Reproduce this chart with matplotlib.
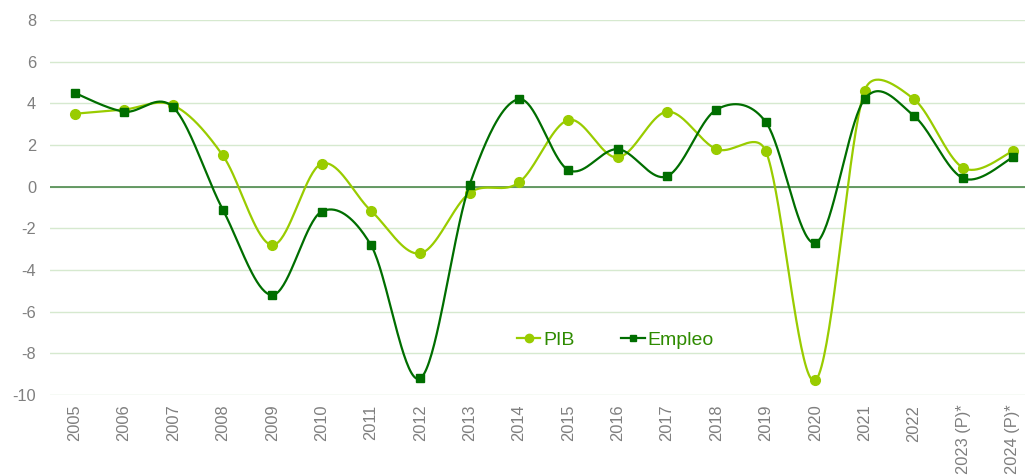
import numpy as np
import matplotlib.pyplot as plt
from matplotlib.lines import Line2D

plt.rcParams['font.family'] = ['Liberation Sans', 'DejaVu Sans']

years = ["2005", "2006", "2007", "2008", "2009", "2010", "2011", "2012", "2013", "2014",
         "2015", "2016", "2017", "2018", "2019", "2020", "2021", "2022", "2023 (P)*", "2024 (P)*"]
pib = [3.5, 3.7, 3.9, 1.5, -2.8, 1.1, -1.15, -3.2, -0.3, 0.2,
       3.2, 1.4, 3.6, 1.8, 1.7, -9.3, 4.6, 4.2, 0.9, 1.7]
empleo = [4.5, 3.6, 3.8, -1.1, -5.2, -1.2, -2.8, -9.2, 0.1, 4.2,
          0.8, 1.8, 0.5, 3.7, 3.1, -2.7, 4.2, 3.4, 0.4, 1.4]

pib_col = "#99CC00"
emp_col = "#006E00"


def smooth(x, y, sx=49.3, sy=20.85, n=40):
    # spreadsheet-like smoothed line: bezier through points, handles 1/6 of
    # neighbour chord, capped at half the segment (computed in pixel space)
    p = np.column_stack([np.asarray(x, float) * sx, np.asarray(y, float) * sy])
    m = len(p)
    out = []
    for i in range(m - 1):
        p1, p2 = p[i], p[i + 1]
        p0 = p[i - 1] if i > 0 else p1
        p3 = p[i + 2] if i + 2 < m else p2
        seg = np.hypot(*(p2 - p1))
        t1 = p2 - p0
        t2 = p3 - p1
        f1 = 1 / 6
        if np.hypot(*t1) / 6 > seg / 2:
            f1 = seg / (2 * np.hypot(*t1))
        f2 = 1 / 6
        if np.hypot(*t2) / 6 > seg / 2:
            f2 = seg / (2 * np.hypot(*t2))
        c1 = p1 + t1 * f1
        c2 = p2 - t2 * f2
        t = np.linspace(0, 1, n)[:, None]
        out.append((1 - t) ** 3 * p1 + 3 * (1 - t) ** 2 * t * c1 + 3 * (1 - t) * t ** 2 * c2 + t ** 3 * p2)
    out = np.vstack(out)
    return out[:, 0] / sx, out[:, 1] / sy


fig = plt.figure(figsize=(10.25, 4.75), dpi=100)
ax = fig.add_axes([50 / 1025, 80 / 475, 975 / 1025, 375 / 475])

x = np.arange(len(years))

ax.set_ylim(-10, 8)
ax.set_yticks(range(-10, 9, 2))
ax.set_yticklabels([str(v) for v in range(-10, 9, 2)])
ax.set_xlim(-0.5, 19.25)
ax.grid(axis="y", color="#D6E9CF", linewidth=1)
ax.axhline(0, color="#4E8A4E", linewidth=1.2, zorder=1)
ax.set_axisbelow(True)

cx, cy = smooth(x, pib)
ax.plot(cx, cy, color=pib_col, linewidth=1.6, zorder=2)
ax.plot(x, pib, "o", color=pib_col, markersize=7, zorder=3)

cx, cy = smooth(x, empleo)
ax.plot(cx, cy, color=emp_col, linewidth=1.6, zorder=4)
ax.plot(x, empleo, "s", color=emp_col, markersize=5.5, zorder=5)

ax.set_xticks(x)
ax.set_xticklabels(years, rotation=90)
ax.tick_params(axis="both", length=0, labelsize=11.8, labelcolor="#7F7F7F")
ax.tick_params(axis="x", pad=7)
ax.tick_params(axis="y", pad=10)
for s in ax.spines.values():
    s.set_visible(False)

handles = [Line2D([], [], color=pib_col, marker="o", markersize=6, linewidth=1.6),
           Line2D([], [], color=emp_col, marker="s", markersize=4.5, linewidth=1.6)]
leg = ax.legend(handles, ["PIB", "Empleo"], loc="center", bbox_to_anchor=(0.58, 0.147),
                ncol=2, frameon=False, fontsize=14, handlelength=1.2, handletextpad=0.15,
                columnspacing=2.4)
for t in leg.get_texts():
    t.set_color("#2E8B00")

plt.savefig("out.png", dpi=100)
